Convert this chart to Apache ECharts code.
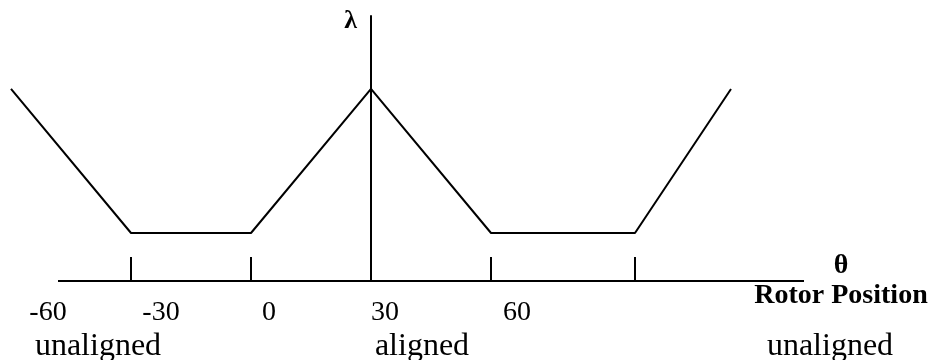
<!DOCTYPE html>
<html>
<head>
<meta charset="utf-8">
<script src="https://cdn.jsdelivr.net/npm/echarts@6/dist/echarts.min.js"></script>
<style>
html, body { margin: 0; padding: 0; background: #fff; }
#chart { width: 934px; height: 360px; }
</style>
</head>
<body>
<div id="chart"></div>
<script>
// rotor position (deg, 0 = aligned) and flux linkage
var theta = [-90, -60, -30, 0, 30, 66, 90];
var lambda = [4, 1, 1, 4, 1, 1, 4];
// ticks drawn on the position axis
var tickAt = [-60, -30, 30, 66];
// tick labels as printed and where they sit
var tickText = ['-60', '-30', '0', '30', '60'];
var tickTextAt = [-80.75, -52.5, -25.5, 3.5, 36.5];
// region names below the axis
var regionText = ['unaligned', 'aligned', 'unaligned'];
var regionAt = [-68.25, 12.75, 114.75];
// extent of the drawn horizontal axis
var axisFrom = -78.25, axisTo = 108.25;

var serif = 'Liberation Serif';
var vm = echarts.init(document.getElementById('chart'));

// a row of plain text placed through the chart's scales
function textRow(xs, names, y, size) {
	return {
		type: 'scatter',
		data: xs.map(function (x) { return [x, y]; }),
		symbolSize: 0,
		itemStyle: { color: '#000', opacity: 1 },
		clip: false,
		silent: true,
		label: {
			show: true,
			position: 'inside',
			formatter: function (p) { return names[p.dataIndex]; },
			fontFamily: serif,
			fontSize: size,
			color: '#000',
			opacity: 1
		}
	};
}

var option = {
	animation: false,
	grid: { left: 0, right: 0, top: 16, bottom: 79 },
	xAxis: {
		type: 'value',
		min: -92.75,
		max: 140.75,
		axisLine: { show: false, onZero: true },
		axisTick: {
			show: true,
			customValues: tickAt,
			inside: true,
			length: 24,
			lineStyle: { color: '#000', width: 2 }
		},
		axisLabel: { show: false },
		splitLine: { show: false },
		name: 'θ\nRotor Position',
		nameLocation: 'end',
		nameGap: -93,
		nameTextStyle: {
			align: 'center',
			verticalAlign: 'middle',
			fontFamily: serif,
			fontWeight: 'bold',
			fontSize: 28,
			lineHeight: 30,
			color: '#000'
		}
	},
	yAxis: {
		type: 'value',
		min: 0,
		max: 5.52,
		axisLine: { show: true, onZero: true, lineStyle: { color: '#000', width: 2 } },
		axisTick: { show: false },
		axisLabel: { show: false },
		splitLine: { show: false },
		name: 'λ',
		nameLocation: 'end',
		nameGap: -5,
		nameTextStyle: {
			align: 'right',
			verticalAlign: 'middle',
			padding: [0, 14, 0, 0],
			fontFamily: serif,
			fontWeight: 'bold',
			fontSize: 26,
			color: '#000'
		}
	},
	series: [
		{
			type: 'line',
			data: theta.map(function (t, i) { return [t, lambda[i]]; }),
			symbol: 'none',
			clip: false,
			lineStyle: { color: '#000', width: 2 }
		},
		{
			// horizontal axis line
			type: 'line',
			data: [[axisFrom, 0], [axisTo, 0]],
			symbol: 'none',
			clip: false,
			lineStyle: { color: '#000', width: 2 }
		},
		textRow(tickTextAt, tickText, -0.65, 28),
		textRow(regionAt, regionText, -1.375, 32)
	]
};
vm.setOption(option);
</script>
</body>
</html>
